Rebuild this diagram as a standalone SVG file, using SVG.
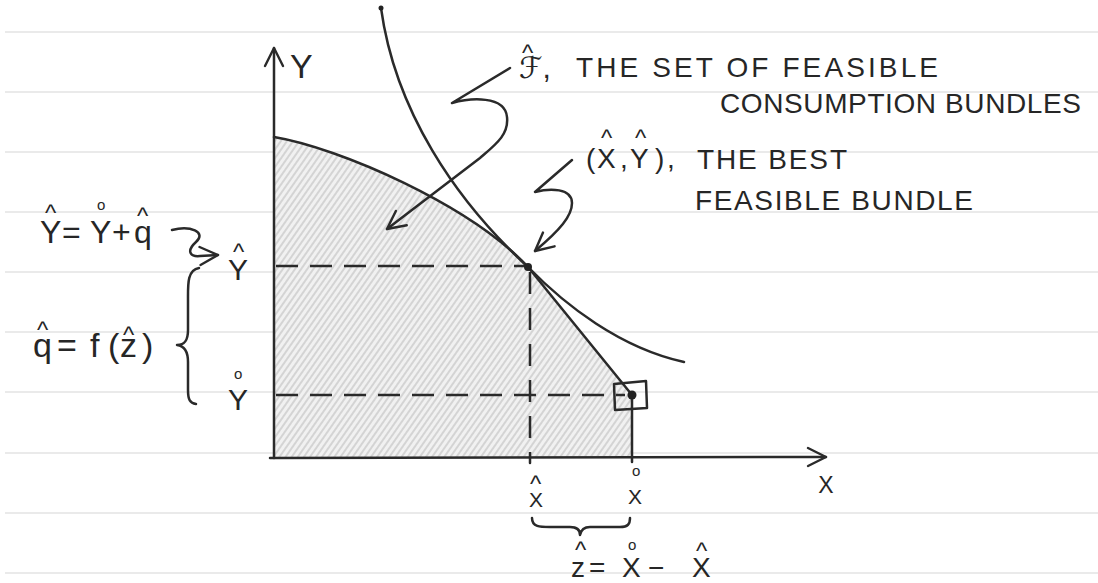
<svg xmlns="http://www.w3.org/2000/svg" width="1098" height="583" viewBox="0 0 1098 583">
<style>
.paper{stroke:#e3e3e3;stroke-width:1.3}
.ink{fill:none;stroke:#2a2a2a;stroke-width:2.5;stroke-linecap:round;stroke-linejoin:round}
.dash{fill:none;stroke:#2a2a2a;stroke-width:2.5;stroke-dasharray:22 12}
.t{font-family:"Liberation Sans","DejaVu Sans",sans-serif;fill:#262626}
.hat{font-size:24px}
.ring{font-size:15px}
</style>
<defs>
<pattern id="hatch" width="5" height="5" patternUnits="userSpaceOnUse" patternTransform="rotate(35)">
<rect width="5" height="5" fill="#f1f1f1"/>
<line x1="1" y1="0" x2="1" y2="5" stroke="#bdbdbd" stroke-width="1.1"/>
</pattern>
<marker id="open" viewBox="0 0 24 24" refX="21" refY="12" markerWidth="24" markerHeight="24" markerUnits="userSpaceOnUse" orient="auto">
<path d="M3,3 L21,12 L3,21" fill="none" stroke="#2a2a2a" stroke-width="2.4" stroke-linecap="round" stroke-linejoin="round"/>
</marker>
</defs>
<rect width="1098" height="583" fill="#ffffff"/>
<g id="paper">
<line class="paper" x1="5" y1="32" x2="1098" y2="32"/>
<line class="paper" x1="5" y1="92" x2="1098" y2="92"/>
<line class="paper" x1="5" y1="152" x2="1098" y2="152"/>
<line class="paper" x1="5" y1="212" x2="1098" y2="212"/>
<line class="paper" x1="5" y1="272" x2="1098" y2="272"/>
<line class="paper" x1="5" y1="332" x2="1098" y2="332"/>
<line class="paper" x1="5" y1="392" x2="1098" y2="392"/>
<line class="paper" x1="5" y1="453" x2="1098" y2="453"/>
<line class="paper" x1="5" y1="513" x2="1098" y2="513"/>
<line class="paper" x1="5" y1="573" x2="1098" y2="573"/>
</g>
<g id="feasible-set">
<path d="M274,137 C340,148 470,205 528,267 L632,395 L632,458 L274,458 Z" fill="url(#hatch)" stroke="none"/>
</g>
<g id="connectors">
<path id="y-axis" class="ink" d="M274,458 L274,48" marker-end="url(#open)"/>
<path id="x-axis" class="ink" d="M270,458 L826,457" marker-end="url(#open)"/>
<path id="frontier" class="ink" d="M274,137 C340,148 470,205 528,267 L632,395"/>
<path id="indifference" class="ink" d="M381,8 C395,110 455,200 528,267 C565,305 620,348 684,362"/>
<path class="dash" d="M276,266 L526,266"/>
<path class="dash" d="M530,272 L530,458" style="stroke-dasharray:22 14"/>
<path class="dash" d="M276,395 L625,395"/>
<path class="ink" d="M632,395 L632,462"/>
<path class="ink" d="M530,458 L530,463"/>
<path class="ink" d="M614,384 L646,381 L647,408 L615,410 Z"/>
<path class="ink" d="M510,68 L452,103 C470,98 505,95 507,117 C509,135 495,145 480,158 L387,229" marker-end="url(#open)"/>
<path class="ink" d="M572,160 L535,192 C550,188 572,188 572,203 C572,216 560,230 535,251" marker-end="url(#open)"/>
<path class="ink" d="M172,230 C190,225 207,232 196,242 C186,251 190,257 200,256 L218,255" marker-end="url(#open)"/>
<path class="ink" d="M199,268 C187,270 188,285 188,300 L188,330 C188,340 185,345 177,345 C185,346 188,352 188,362 L188,390 C188,400 190,403 196,404"/>
<path class="ink" d="M532,518 C532,527 540,527 550,527 L570,527 C577,527 580,530 580,535 C581,530 584,527 590,527 L620,527 C628,527 630,524 630,518"/>
<circle cx="528" cy="267" r="4" fill="#222"/>
<circle cx="632" cy="395" r="4.5" fill="#222"/>
<circle cx="381" cy="8" r="2.5" fill="#222"/>
</g>
<g id="axis-labels">
<text class="t" x="290" y="78" font-size="34">Y</text>
<text class="t" x="826" y="493" font-size="23" text-anchor="middle">X</text>
</g>
<g id="label-feasible-set">
<text class="t" font-size="30"><tspan x="519" y="78">ℱ,</tspan><tspan class="hat" x="522" y="61">^</tspan></text>
<text class="t" x="576" y="77" font-size="28" textLength="362">THE SET OF FEASIBLE</text>
<text class="t" x="720" y="113" font-size="28" textLength="361">CONSUMPTION BUNDLES</text>
</g>
<g id="label-best-bundle">
<text class="t" font-size="28"><tspan y="168" x="586 597 620 630 655 667">(X,Y),</tspan><tspan class="hat" x="601" y="146">^</tspan><tspan class="hat" x="635" y="146">^</tspan></text>
<text class="t" x="697" y="169" font-size="28" textLength="150">THE BEST</text>
<text class="t" x="695" y="210" font-size="28" textLength="278">FEASIBLE BUNDLE</text>
</g>
<g id="label-y-hat-eq">
<text class="t" font-size="32"><tspan y="243" x="40 62 90 112 134">Y=Y+q</tspan><tspan class="hat" x="45" y="221">^</tspan><tspan class="ring" x="97" y="210">o</tspan><tspan class="hat" x="137" y="224">^</tspan></text>
</g>
<g id="label-y-hat">
<text class="t" font-size="30"><tspan x="228" y="280">Y</tspan><tspan class="hat" x="233" y="260">^</tspan></text>
</g>
<g id="label-y-ring">
<text class="t" font-size="30"><tspan x="228" y="410">Y</tspan><tspan class="ring" x="234" y="379">o</tspan></text>
</g>
<g id="label-q-hat">
<text class="t" font-size="34"><tspan y="357" x="33 57 90 108 120 142">q=f(z)</tspan><tspan class="hat" x="37" y="338">^</tspan><tspan class="hat" x="123" y="343">^</tspan></text>
</g>
<g id="label-x-hat">
<text class="t" font-size="21"><tspan x="529" y="507">X</tspan><tspan class="hat" x="530" y="492">^</tspan></text>
</g>
<g id="label-x-ring">
<text class="t" font-size="21"><tspan x="628" y="504">X</tspan><tspan class="ring" x="632" y="476">o</tspan></text>
</g>
<g id="label-z-hat-eq">
<text class="t" font-size="28"><tspan y="577" x="571 589 622 648 692">z=X−X</tspan><tspan class="hat" x="575" y="558">^</tspan><tspan class="ring" x="628" y="550">o</tspan><tspan class="hat" x="696" y="559">^</tspan></text>
</g>
</svg>
